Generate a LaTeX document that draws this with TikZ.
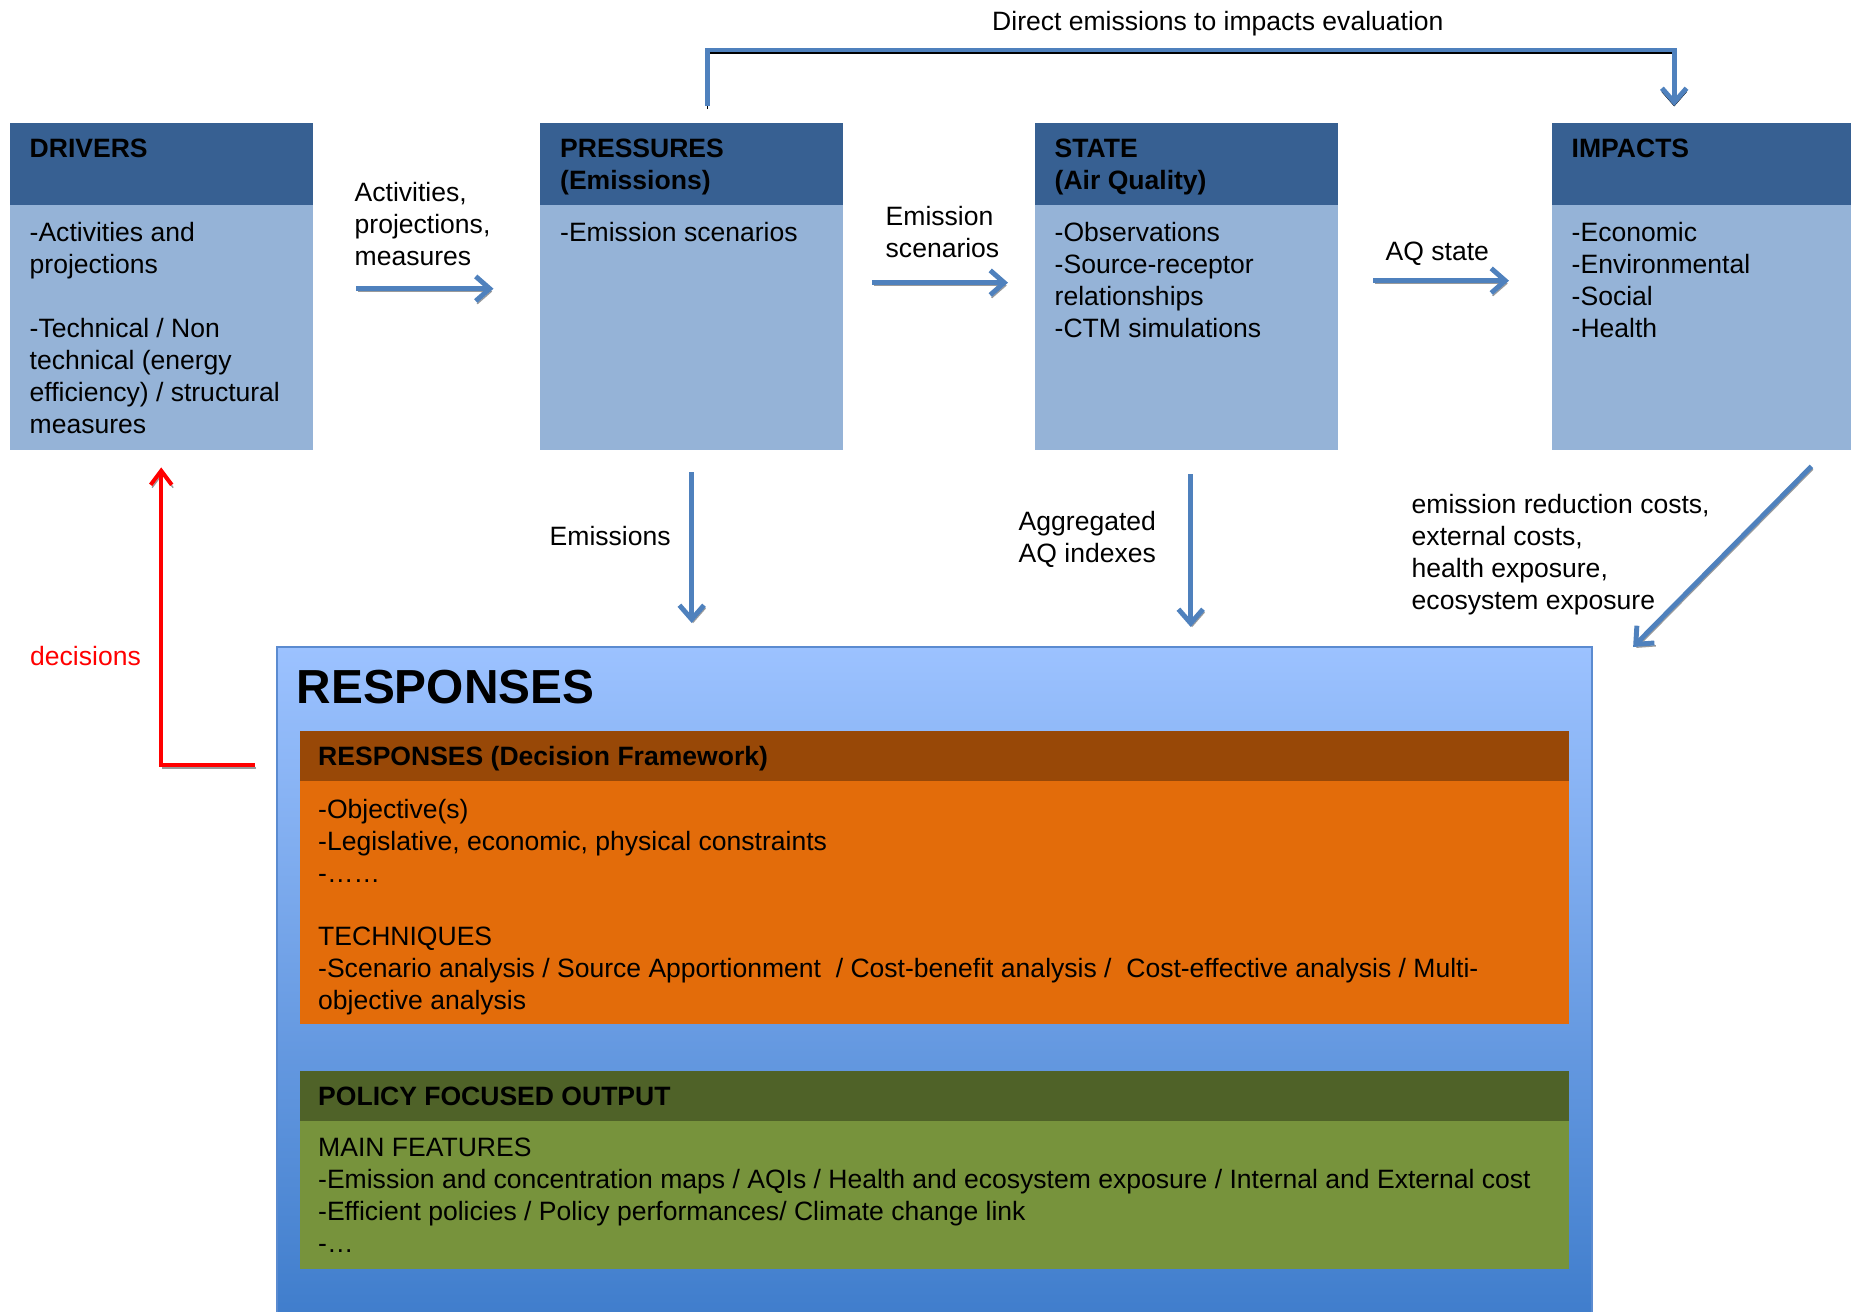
\documentclass[tikz,border=0pt]{standalone}
\usepackage{fontspec}
\setmainfont{Liberation Sans}
\usetikzlibrary{positioning, arrows.meta, calc}

\definecolor{hdblue}{HTML}{376092}
\definecolor{bodyblue}{HTML}{95B3D7}
\definecolor{flowblue}{HTML}{4F81BD}
\definecolor{shadowgray}{HTML}{9A9A9A}
\definecolor{resptop}{HTML}{9CC2FF}
\definecolor{respbot}{HTML}{3E7CCB}
\definecolor{respedge}{HTML}{5B8BD0}
\definecolor{orghd}{HTML}{984807}
\definecolor{orgbody}{HTML}{E36C0A}
\definecolor{grnhd}{HTML}{4F6228}
\definecolor{grnbody}{HTML}{77933C}

\begin{document}
\begin{tikzpicture}[
  panel/.style={rectangle, fill=bodyblue, minimum width=3.03cm, minimum height=3.27cm, inner sep=0pt, anchor=north west},
  panelhd/.style={rectangle, fill=hdblue, minimum width=3.03cm, minimum height=0.82cm, inner sep=0pt, anchor=north west},
  subbox/.style={rectangle, minimum width=12.69cm, inner sep=0pt, anchor=north west},
  subhd/.style={subbox, minimum height=0.5cm},
  lbl/.style={font=\fontsize{7.55}{9.07}\selectfont, align=left, anchor=north west, inner sep=0pt},
  hdlbl/.style={lbl, font=\fontsize{7.55}{9.07}\selectfont\bfseries},
  arrowbase/.style={-{Straight Barb[length=4pt,width=7pt]}, draw=flowblue, line width=1.4pt},
  flow/.style={arrowbase, preaction={draw=shadowgray, transform canvas={shift={(0.4pt,-0.8pt)}}}},
  dirflow/.style={arrowbase, preaction={draw=black, transform canvas={yshift=-0.9pt}}},
  decide/.style={-{Straight Barb[length=4pt,width=6pt]}, draw=red, line width=1.15pt,
    preaction={draw=shadowgray, transform canvas={shift={(0.4pt,-0.8pt)}}}}
]
  \useasboundingbox (0,0) rectangle (18.51,-13.11);
  \clip (0,0) rectangle (18.51,-13.11);

  % DPSIR boxes
  \node[panel]   (drivers)   at (0.09,-1.22)  {};
  \node[panelhd] (drivershd) at (drivers.north west) {};
  \node[panel]   (press)     at (5.395,-1.22) {};
  \node[panelhd] (presshd)   at (press.north west) {};
  \node[panel]   (state)     at (10.34,-1.22) {};
  \node[panelhd] (statehd)   at (state.north west) {};
  \node[panel]   (impacts)   at (15.51,-1.22) {};
  \node[panelhd] (impactshd) at (impacts.north west) {};

  \node[hdlbl, below right=0.16cm and 0.2cm of drivers.north west] (driverst) {DRIVERS};
  \node[lbl, below right=0.165cm and 0.2cm of drivershd.south west] (driversb)
    {-Activities and\\projections\\[9.07pt]-Technical / Non\\technical (energy\\efficiency) / structural\\measures};
  \node[hdlbl, below right=0.16cm and 0.2cm of press.north west] (presst) {PRESSURES\\(Emissions)};
  \node[lbl, below right=0.165cm and 0.2cm of presshd.south west] (pressb) {-Emission scenarios};
  \node[hdlbl, below right=0.16cm and 0.2cm of state.north west] (statet) {STATE\\(Air Quality)};
  \node[lbl, below right=0.165cm and 0.2cm of statehd.south west] (stateb)
    {-Observations\\-Source-receptor\\relationships\\-CTM simulations};
  \node[hdlbl, below right=0.16cm and 0.2cm of impacts.north west] (impactst) {IMPACTS};
  \node[lbl, below right=0.165cm and 0.2cm of impactshd.south west] (impactsb)
    {-Economic\\-Environmental\\-Social\\-Health};

  % responses
  \node[rectangle, anchor=north west, minimum width=13.15cm, minimum height=6.8cm, inner sep=0pt,
    top color=resptop, bottom color=respbot, draw=respedge, line width=0.6pt] (resp) at (2.76,-6.46) {};
  \node[anchor=north west, inner sep=0pt, font=\fontsize{13.6}{16}\selectfont\bfseries,
    below right=0.23cm and 0.2cm of resp.north west] (resptitle) {RESPONSES};

  \node[subbox, fill=orgbody, minimum height=2.93cm] (frame)   at (2.99,-7.30) {};
  \node[subhd, fill=orghd]                           (framehd) at (frame.north west) {};
  \node[hdlbl, below right=0.16cm and 0.185cm of frame.north west] (framet) {RESPONSES (Decision Framework)};
  \node[lbl, below right=0.17cm and 0.185cm of framehd.south west] (frameb)
    {-Objective(s)\\-Legislative, economic, physical constraints\\-……\\[9.07pt]TECHNIQUES\\
     -Scenario analysis / Source Apportionment\ \ / Cost-benefit analysis /\ \ Cost-effective analysis / Multi-\\objective analysis};

  \node[subbox, fill=grnbody, minimum height=1.98cm] (output)   at (2.99,-10.70) {};
  \node[subhd, fill=grnhd]                           (outputhd) at (output.north west) {};
  \node[hdlbl, below right=0.165cm and 0.185cm of output.north west] (outputt) {POLICY FOCUSED OUTPUT};
  \node[lbl, below right=0.16cm and 0.185cm of outputhd.south west] (outputb)
    {MAIN FEATURES\\-Emission and concentration maps / AQIs / Health and ecosystem exposure / Internal and External cost\\
     -Efficient policies / Policy performances/ Climate change link\\-…};

  % connectors
  \draw[flow, shorten <=0.43cm, shorten >=0.46cm] ([yshift=-0.025cm]drivers.east) -- ([yshift=-0.025cm]press.west);
  \draw[flow, shorten <=0.285cm, shorten >=0.26cm] ([yshift=0.035cm]press.east) -- ([yshift=0.035cm]state.west);
  \draw[flow, shorten <=0.35cm, shorten >=0.42cm] ([yshift=0.055cm]state.east) -- ([yshift=0.055cm]impacts.west);
  \draw[dirflow] ([shift={(0.16,0.16)}]press.north) -- ++(0,0.56) -| ([shift={(-0.29,0.16)}]impacts.north);
  \draw[flow, shorten <=0.22cm, shorten >=0.23cm] (press.south) -- (press.south |- resp.north);
  \draw[flow, shorten <=0.24cm, shorten >=0.19cm] ([xshift=0.045cm]state.south) -- ([xshift=0.045cm]state.south |- resp.north);
  \draw[flow] ([shift={(-0.44,-0.16)}]impacts.south east) -- ([shift={(0.40,-0.01)}]resp.north east);
  \coordinate (decstart) at (2.55,-7.65);
  \draw[decide] (decstart) -| ([yshift=-0.17cm]drivers.south);

  % labels
  \node[lbl] (dirlbl)  at (9.915,-0.11) {Direct emissions to impacts evaluation};
  \node[lbl] (actlbl)  at (3.54,-1.82)  {Activities,\\projections,\\measures};
  \node[lbl] (scenlbl) at (8.85,-2.06)  {Emission\\scenarios};
  \node[lbl] (aqlbl)   at (13.85,-2.41) {AQ state};
  \node[lbl] (emislbl) at (5.49,-5.26)  {Emissions};
  \node[lbl] (agglbl)  at (10.18,-5.11) {Aggregated\\AQ indexes};
  \node[lbl] (costlbl) at (14.11,-4.94) {emission reduction costs,\\external costs,\\health exposure,\\ecosystem exposure};
  \node[lbl, text=red] (declbl) at (0.295,-6.46) {decisions};
\end{tikzpicture}
\end{document}
